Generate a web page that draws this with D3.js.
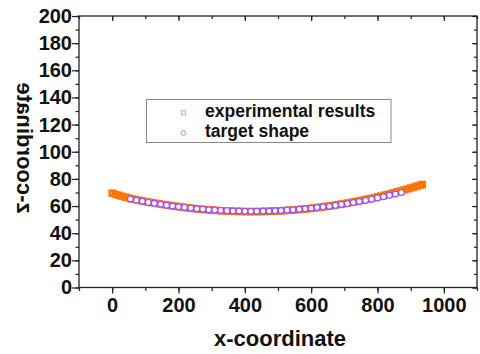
<!DOCTYPE html>
<html>
<head>
<meta charset="utf-8">
<script src="https://cdn.jsdelivr.net/npm/d3@7"></script>
<style>
  body { margin: 0; background: #fff; }
  svg { display: block; font-family: Arial, "Liberation Sans", sans-serif; }
</style>
</head>
<body>
<div id="chart"></div>
<script>
// experimental results (orange squares)
const expX = [0, 10, 20, 30, 40, 50, 60, 70, 80, 90, 100, 110, 120, 130, 140, 150, 160, 170, 180, 190,
  200, 210, 220, 230, 240, 250, 260, 270, 280, 290, 300, 310, 320, 330, 340, 350, 360, 370, 380, 390,
  400, 410, 420, 430, 440, 450, 460, 470, 480, 490, 500, 510, 520, 530, 540, 550, 560, 570, 580, 590,
  600, 610, 620, 630, 640, 650, 660, 670, 680, 690, 700, 710, 720, 730, 740, 750, 760, 770, 780, 790,
  800, 810, 820, 830, 840, 850, 860, 870, 880, 890, 900, 910, 920, 930, 935]
const expZ = [69.5, 68.7, 67.9, 67.2, 66.5, 65.9, 65.3, 64.8, 64.3, 63.8, 63.3, 62.9, 62.5, 62.1, 61.7, 61.3, 60.9, 60.6, 60.2, 59.9,
  59.6, 59.2, 58.9, 58.6, 58.3, 58.1, 57.8, 57.6, 57.4, 57.2, 57.0, 56.8, 56.7, 56.5, 56.4, 56.3, 56.2, 56.1, 56.0, 56.0,
  55.9, 55.9, 55.9, 55.9, 55.9, 56.0, 56.0, 56.1, 56.2, 56.3, 56.4, 56.5, 56.7, 56.8, 57.0, 57.2, 57.4, 57.6, 57.8, 58.1,
  58.3, 58.6, 58.9, 59.2, 59.6, 59.9, 60.2, 60.6, 61.0, 61.4, 61.8, 62.2, 62.7, 63.2, 63.6, 64.1, 64.6, 65.1, 65.7, 66.2,
  66.8, 67.4, 68.0, 68.6, 69.2, 69.9, 70.5, 71.2, 71.9, 72.6, 73.3, 74.0, 74.8, 75.5, 75.9]

// target shape (violet circles)
const tgtX = [55, 73, 91, 109, 127, 146, 164, 182, 200, 218, 237, 255, 273, 291, 309, 327, 346, 364, 382, 400,
  418, 436, 455, 473, 491, 509, 527, 545, 564, 582, 600, 618, 636, 655, 673, 691, 709, 727, 745, 764,
  782, 800, 818, 836, 854, 872]
const tgtZ = [65.2, 64.3, 63.5, 62.7, 62.0, 61.3, 60.6, 60.0, 59.5, 59.0, 58.5, 58.0, 57.7, 57.3, 57.0, 56.8, 56.6, 56.4, 56.3, 56.2,
  56.2, 56.2, 56.3, 56.4, 56.5, 56.7, 57.0, 57.3, 57.6, 58.0, 58.4, 58.9, 59.4, 59.9, 60.5, 61.2, 61.8, 62.6, 63.3, 64.2,
  65.1, 66.0, 66.9, 67.9, 68.9, 70.0]

const xTicks = [0, 200, 400, 600, 800, 1000]
const yTicks = [0, 20, 40, 60, 80, 100, 120, 140, 160, 180, 200]
const legendLabels = ['experimental results', 'target shape']

const width = 480, height = 354
const orange = '#ff7600', violet = '#9a4dff'

const svg = d3.select('#chart').append('svg')
  .attr('width', width)
  .attr('height', height)

const x = d3.scaleLinear().domain([-100, 1100]).range([79, 477])
const y = d3.scaleLinear().domain([0, 200]).range([287.5, 16])

// axes: bottom & left outward, top & right inward
const fmt = d3.format('d')
const xMinor = d3.range(-100, 1101, 100)
const yMinor = d3.range(0, 201, 10)

function styleAxis(g) {
  g.select('.domain').remove()
  g.selectAll('line').attr('stroke', '#222').attr('stroke-width', 1.2)
  g.selectAll('text')
    .attr('font-size', 20)
    .attr('font-weight', 'bold')
    .attr('fill', '#111')
}

svg.append('g')
  .attr('transform', `translate(0,${y(0)})`)
  .call(d3.axisBottom(x).tickValues(xMinor).tickSize(3.5).tickFormat(''))
  .call(styleAxis)
svg.append('g')
  .attr('transform', `translate(0,${y(0)})`)
  .call(d3.axisBottom(x).tickValues(xTicks).tickSize(6).tickPadding(4).tickFormat(fmt))
  .call(styleAxis)
  .call(g => g.selectAll('text').attr('dy', '0.71em').attr('y', 10))

svg.append('g')
  .attr('transform', `translate(${x(-100)},0)`)
  .call(d3.axisLeft(y).tickValues(yMinor).tickSize(3.5).tickFormat(''))
  .call(styleAxis)
svg.append('g')
  .attr('transform', `translate(${x(-100)},0)`)
  .call(d3.axisLeft(y).tickValues(yTicks).tickSize(7).tickPadding(0).tickFormat(fmt))
  .call(styleAxis)

svg.append('g')
  .attr('transform', `translate(0,${y(200)})`)
  .call(d3.axisBottom(x).tickValues(xMinor).tickSize(3).tickFormat(''))
  .call(styleAxis)
svg.append('g')
  .attr('transform', `translate(0,${y(200)})`)
  .call(d3.axisBottom(x).tickValues(xTicks).tickSize(5).tickFormat(''))
  .call(styleAxis)
svg.append('g')
  .attr('transform', `translate(${x(1100)},0)`)
  .call(d3.axisRight(y).tickValues(yMinor).tickSize(-3).tickFormat(''))
  .call(styleAxis)
svg.append('g')
  .attr('transform', `translate(${x(1100)},0)`)
  .call(d3.axisRight(y).tickValues(yTicks).tickSize(-5).tickFormat(''))
  .call(styleAxis)

// frame
svg.append('rect')
  .attr('x', x(-100))
  .attr('y', y(200))
  .attr('width', x(1100) - x(-100))
  .attr('height', y(0) - y(200))
  .attr('fill', 'none')
  .attr('stroke', '#222')
  .attr('stroke-width', 1.3)

// axis titles
svg.append('text')
  .attr('x', 280)
  .attr('y', 346)
  .attr('text-anchor', 'middle')
  .attr('font-size', 22)
  .attr('font-weight', 'bold')
  .attr('fill', '#111')
  .text('x-coordinate')

// y title is mirrored in the original
svg.append('text')
  .attr('transform', 'translate(17,148) rotate(-90) scale(1,-1)')
  .attr('text-anchor', 'middle')
  .attr('font-size', 22)
  .attr('font-weight', 'bold')
  .attr('fill', '#111')
  .text('z-coordinate')

// data
const expData = expX.map((d, i) => ({x: d, z: expZ[i]}))
const tgtData = tgtX.map((d, i) => ({x: d, z: tgtZ[i]}))
const sq = 4.8

svg.append('g').selectAll('rect')
  .data(expData)
  .enter().append('rect')
  .attr('x', d => x(d.x) - sq / 2)
  .attr('y', d => y(d.z) - sq / 2)
  .attr('width', sq)
  .attr('height', sq)
  .attr('fill', 'none')
  .attr('stroke', orange)
  .attr('stroke-width', 2.7)

svg.append('g').selectAll('circle')
  .data(tgtData)
  .enter().append('circle')
  .attr('cx', d => x(d.x))
  .attr('cy', d => y(d.z))
  .attr('r', 2.9)
  .attr('fill', '#fff')
  .attr('stroke', violet)
  .attr('stroke-width', 1.2)

// legend
const lg = svg.append('g')
lg.append('rect')
  .attr('x', 146.5)
  .attr('y', 99.5)
  .attr('width', 244.5)
  .attr('height', 43)
  .attr('fill', '#fff')
  .attr('stroke', '#888')
  .attr('stroke-width', 1)
lg.append('rect')
  .attr('x', 181.3)
  .attr('y', 110.7)
  .attr('width', 4)
  .attr('height', 4)
  .attr('fill', 'none')
  .attr('stroke', orange)
  .attr('stroke-opacity', 0.7)
  .attr('stroke-width', 1)
lg.append('circle')
  .attr('cx', 183.3)
  .attr('cy', 133)
  .attr('r', 2.3)
  .attr('fill', 'none')
  .attr('stroke', violet)
  .attr('stroke-opacity', 0.7)
  .attr('stroke-width', 1)
lg.selectAll('.lbl')
  .data(legendLabels)
  .enter().append('text')
  .attr('class', 'lbl')
  .attr('x', 205)
  .attr('y', (d, i) => 117 + i * 20)
  .attr('font-size', 17.5)
  .attr('font-weight', 'bold')
  .attr('fill', '#111')
  .text(d => d)
</script>
</body>
</html>
